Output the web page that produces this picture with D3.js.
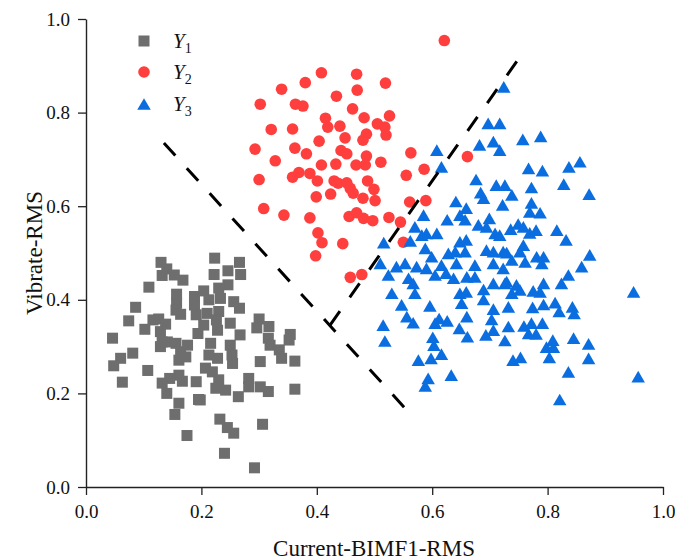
<!DOCTYPE html>
<html>
<head>
<meta charset="utf-8">
<script src="https://cdn.jsdelivr.net/npm/d3@7"></script>
<style>
  html, body { margin: 0; padding: 0; background: #ffffff; }
  svg { display: block; }
  text { font-family: "Liberation Serif", "Times New Roman", serif; fill: #111; }
</style>
</head>
<body>
<svg id="chart" width="675" height="560"></svg>
<script>
// ---------------- data ----------------
const xMajorTicks = [0.0, 0.2, 0.4, 0.6, 0.8, 1.0];
const yMajorTicks = [0.0, 0.2, 0.4, 0.6, 0.8, 1.0];
const minorTicks = [0.1, 0.3, 0.5, 0.7, 0.9];
const xTitle = "Current-BIMF1-RMS";
const yTitle = "Vibrate-RMS";
const seriesNames = ["1", "2", "3"];

// Y1 (grey squares)
const y1Points = [
  [0.130,0.480],[0.140,0.466],[0.132,0.452],[0.153,0.453],[0.168,0.442],[0.109,0.427],[0.086,0.384],
  [0.157,0.412],[0.157,0.393],[0.156,0.378],[0.164,0.369],[0.188,0.407],[0.188,0.389],[0.191,0.368],
  [0.074,0.355],[0.116,0.357],[0.126,0.359],[0.138,0.348],[0.102,0.337],[0.129,0.332],[0.194,0.328],
  [0.046,0.318],[0.132,0.310],[0.129,0.300],[0.141,0.310],[0.156,0.307],[0.176,0.303],[0.164,0.289],
  [0.161,0.271],[0.173,0.278],[0.081,0.286],[0.060,0.275],[0.048,0.259],[0.107,0.249],[0.191,0.225],
  [0.161,0.239],[0.167,0.226],[0.145,0.232],[0.132,0.222],[0.063,0.224],[0.140,0.200],[0.161,0.179],
  [0.195,0.187],[0.154,0.155],[0.175,0.110],
  [0.223,0.489],[0.222,0.454],[0.266,0.480],[0.246,0.462],[0.268,0.454],[0.246,0.432],[0.204,0.419],
  [0.230,0.425],[0.233,0.403],[0.256,0.396],[0.266,0.382],[0.213,0.400],[0.210,0.371],[0.230,0.375],
  [0.226,0.357],[0.250,0.350],[0.204,0.346],[0.228,0.335],[0.267,0.325],[0.300,0.359],[0.296,0.340],
  [0.317,0.343],[0.316,0.318],[0.319,0.303],[0.335,0.293],[0.339,0.275],[0.354,0.326],[0.352,0.314],
  [0.362,0.269],[0.216,0.307],[0.213,0.282],[0.228,0.275],[0.250,0.303],[0.253,0.282],[0.254,0.264],
  [0.302,0.268],[0.207,0.254],[0.219,0.246],[0.230,0.229],[0.225,0.211],[0.242,0.207],[0.282,0.232],
  [0.282,0.214],[0.302,0.214],[0.316,0.204],[0.362,0.209],[0.264,0.193],[0.198,0.186],[0.232,0.145],
  [0.245,0.127],[0.256,0.115],[0.306,0.134],[0.240,0.072],[0.292,0.041]
];

// Y2 (red circles)
const y2Points = [
  [0.408,0.885],[0.380,0.864],[0.339,0.850],[0.434,0.835],[0.302,0.818],[0.363,0.818],[0.376,0.814],
  [0.415,0.788],[0.419,0.769],[0.440,0.771],[0.321,0.764],[0.358,0.765],[0.449,0.746],[0.404,0.739],
  [0.293,0.722],[0.362,0.724],[0.382,0.712],[0.442,0.719],[0.452,0.712],[0.328,0.697],[0.408,0.688],
  [0.433,0.690],[0.300,0.657],[0.358,0.662],[0.369,0.672],[0.388,0.670],[0.401,0.654],[0.430,0.654],
  [0.437,0.649],[0.452,0.650],[0.458,0.638],[0.463,0.628],[0.424,0.626],[0.399,0.620],[0.308,0.595],
  [0.343,0.581],[0.388,0.575],[0.456,0.578],[0.469,0.586],[0.402,0.543],[0.409,0.522],[0.445,0.520],
  [0.398,0.494],[0.458,0.448],
  [0.621,0.954],[0.469,0.882],[0.519,0.863],[0.470,0.848],[0.462,0.808],[0.482,0.789],[0.526,0.793],
  [0.505,0.776],[0.518,0.769],[0.486,0.754],[0.480,0.741],[0.520,0.752],[0.486,0.707],[0.468,0.688],
  [0.484,0.688],[0.511,0.694],[0.563,0.714],[0.661,0.706],[0.586,0.679],[0.555,0.666],[0.488,0.654],
  [0.499,0.636],[0.480,0.617],[0.501,0.612],[0.561,0.609],[0.589,0.612],[0.481,0.574],[0.497,0.569],
  [0.525,0.576],[0.545,0.566],[0.550,0.523],[0.478,0.454]
];

// Y3 (blue triangles)
const y3Points = [
  [0.697,0.777],[0.717,0.777],[0.608,0.720],[0.682,0.731],[0.706,0.738],[0.717,0.720],[0.616,0.684],
  [0.676,0.657],[0.711,0.645],[0.726,0.645],[0.684,0.629],[0.689,0.617],[0.722,0.603],[0.641,0.610],
  [0.659,0.596],[0.585,0.581],[0.626,0.571],[0.648,0.581],[0.657,0.571],[0.699,0.574],[0.680,0.560],
  [0.694,0.556],[0.570,0.556],[0.590,0.542],[0.608,0.542],[0.582,0.538],[0.709,0.542],[0.717,0.538],
  [0.516,0.522],[0.562,0.526],[0.648,0.524],[0.659,0.528],[0.588,0.510],[0.628,0.499],[0.640,0.503],
  [0.657,0.503],[0.694,0.506],[0.706,0.503],[0.723,0.503],[0.599,0.492],[0.510,0.478],[0.553,0.478],
  [0.573,0.471],[0.616,0.474],[0.642,0.478],[0.674,0.474],[0.706,0.478],[0.538,0.471],
  [0.724,0.855],[0.757,0.743],[0.788,0.749],[0.767,0.681],[0.791,0.676],[0.837,0.684],[0.856,0.695],
  [0.828,0.647],[0.872,0.626],[0.738,0.624],[0.772,0.640],[0.772,0.607],[0.769,0.588],[0.787,0.586],
  [0.749,0.562],[0.758,0.556],[0.736,0.551],[0.769,0.543],[0.780,0.549],[0.816,0.549],[0.832,0.528],
  [0.758,0.517],[0.752,0.503],[0.729,0.501],[0.738,0.485],[0.781,0.492],[0.793,0.492],[0.873,0.496],
  [0.761,0.481],[0.859,0.471],[0.836,0.453],[0.790,0.478],
  [0.824,0.435],[0.729,0.439],[0.746,0.432],[0.752,0.421],[0.775,0.419],[0.787,0.417],[0.793,0.435],
  [0.738,0.414],[0.949,0.417],[0.732,0.385],[0.774,0.384],[0.793,0.390],[0.813,0.394],[0.820,0.375],
  [0.843,0.385],[0.846,0.371],[0.732,0.343],[0.759,0.344],[0.772,0.350],[0.791,0.350],[0.767,0.328],
  [0.780,0.327],[0.726,0.313],[0.809,0.314],[0.798,0.299],[0.810,0.299],[0.845,0.318],[0.871,0.306],
  [0.871,0.275],[0.803,0.277],[0.740,0.271],[0.753,0.277],[0.836,0.246],[0.957,0.236],[0.821,0.187],
  [0.590,0.467],[0.723,0.467],[0.524,0.453],[0.559,0.446],[0.567,0.435],[0.605,0.453],[0.624,0.457],
  [0.637,0.446],[0.660,0.449],[0.674,0.449],[0.706,0.435],[0.689,0.422],[0.726,0.435],[0.530,0.414],
  [0.570,0.414],[0.648,0.414],[0.659,0.417],[0.651,0.393],[0.689,0.401],[0.547,0.389],[0.596,0.387],
  [0.706,0.380],[0.556,0.364],[0.567,0.351],[0.612,0.360],[0.626,0.355],[0.605,0.350],[0.660,0.364],
  [0.647,0.339],[0.661,0.321],[0.703,0.358],[0.706,0.335],[0.693,0.325],[0.515,0.346],[0.518,0.312],
  [0.601,0.320],[0.603,0.303],[0.616,0.284],[0.576,0.271],[0.598,0.275],[0.633,0.239],[0.593,0.232],
  [0.588,0.216]
];

// dashed boundary lines (data coordinates)
const boundary1 = [[0.135,0.735],[0.562,0.156]];
const boundary2 = [[0.423,0.346],[0.747,0.910]];

// ---------------- drawing ----------------
const colors = { y1: "#6e6e6e", y2: "#ff3e3e", y3: "#0a6ee0" };
const svg = d3.select("#chart");

const x = d3.scaleLinear().domain([0, 1]).range([86, 663]);
const y = d3.scaleLinear().domain([0, 1]).range([487, 19]);

// axes
const fmt = d3.format(".1f");
const gx = svg.append("g").attr("transform", "translate(0,487)");
gx.call(d3.axisBottom(x).tickValues(minorTicks).tickSize(5).tickSizeOuter(0).tickFormat(""));
gx.call(d3.axisBottom(x).tickValues(xMajorTicks).tickSize(8).tickSizeOuter(0).tickPadding(10).tickFormat(fmt));

const gy = svg.append("g").attr("transform", "translate(86,0)");
gy.call(d3.axisLeft(y).tickValues(minorTicks).tickSize(5).tickSizeOuter(0).tickFormat(""));
gy.call(d3.axisLeft(y).tickValues(yMajorTicks).tickSize(8).tickSizeOuter(0).tickPadding(8).tickFormat(fmt));

svg.selectAll(".domain").attr("stroke", "#222").attr("stroke-width", 1.4);
svg.selectAll(".tick line").attr("stroke", "#222").attr("stroke-width", 1.3);
svg.selectAll(".tick text")
  .style("font-family", '"Liberation Serif", "Times New Roman", serif')
  .style("font-size", "19px").attr("fill", "#111");

// axis titles
svg.append("text").attr("x", 374).attr("y", 556).attr("text-anchor", "middle")
  .style("font-size", "23px").text(xTitle);
svg.append("text").attr("transform", "translate(42,253) rotate(-90)").attr("text-anchor", "middle")
  .style("font-size", "23px").text(yTitle);

// markers
const sq = 11, cr = 5.8, tw = 13.5, th = 11.7;
const triPath = (cx, cy) => `M${cx},${cy - th / 2}L${cx + tw / 2},${cy + th / 2}L${cx - tw / 2},${cy + th / 2}Z`;

svg.append("g").selectAll("rect").data(y1Points).join("rect")
  .attr("x", d => x(d[0]) - sq / 2).attr("y", d => y(d[1]) - sq / 2)
  .attr("width", sq).attr("height", sq).attr("fill", colors.y1);

svg.append("g").selectAll("circle").data(y2Points).join("circle")
  .attr("cx", d => x(d[0])).attr("cy", d => y(d[1])).attr("r", cr).attr("fill", colors.y2);

svg.append("g").selectAll("path").data(y3Points).join("path")
  .attr("d", d => triPath(x(d[0]), y(d[1]))).attr("fill", colors.y3);

// boundary lines
const line = d3.line().x(d => x(d[0])).y(d => y(d[1]));
[boundary1, boundary2].forEach(b => {
  svg.append("path").datum(b).attr("d", line)
    .attr("fill", "none").attr("stroke", "#000").attr("stroke-width", 3)
    .attr("stroke-dasharray", "17,17");
});

// legend
const legend = svg.append("g");
const legendRows = [
  { key: "y1", name: seriesNames[0], cy: 41 },
  { key: "y2", name: seriesNames[1], cy: 72 },
  { key: "y3", name: seriesNames[2], cy: 104 }
];
legendRows.forEach(r => {
  if (r.key === "y1") {
    legend.append("rect").attr("x", 144 - sq / 2).attr("y", r.cy - sq / 2)
      .attr("width", sq).attr("height", sq).attr("fill", colors.y1);
  } else if (r.key === "y2") {
    legend.append("circle").attr("cx", 144).attr("cy", r.cy).attr("r", cr).attr("fill", colors.y2);
  } else {
    legend.append("path").attr("d", triPath(144, r.cy)).attr("fill", colors.y3);
  }
  const t = legend.append("text").attr("x", 173).attr("y", r.cy + 6.5).style("font-size", "21px");
  t.append("tspan").style("font-style", "italic").text("Y");
  t.append("tspan").attr("dy", 5).style("font-size", "14px").text(r.name);
});
</script>
</body>
</html>
